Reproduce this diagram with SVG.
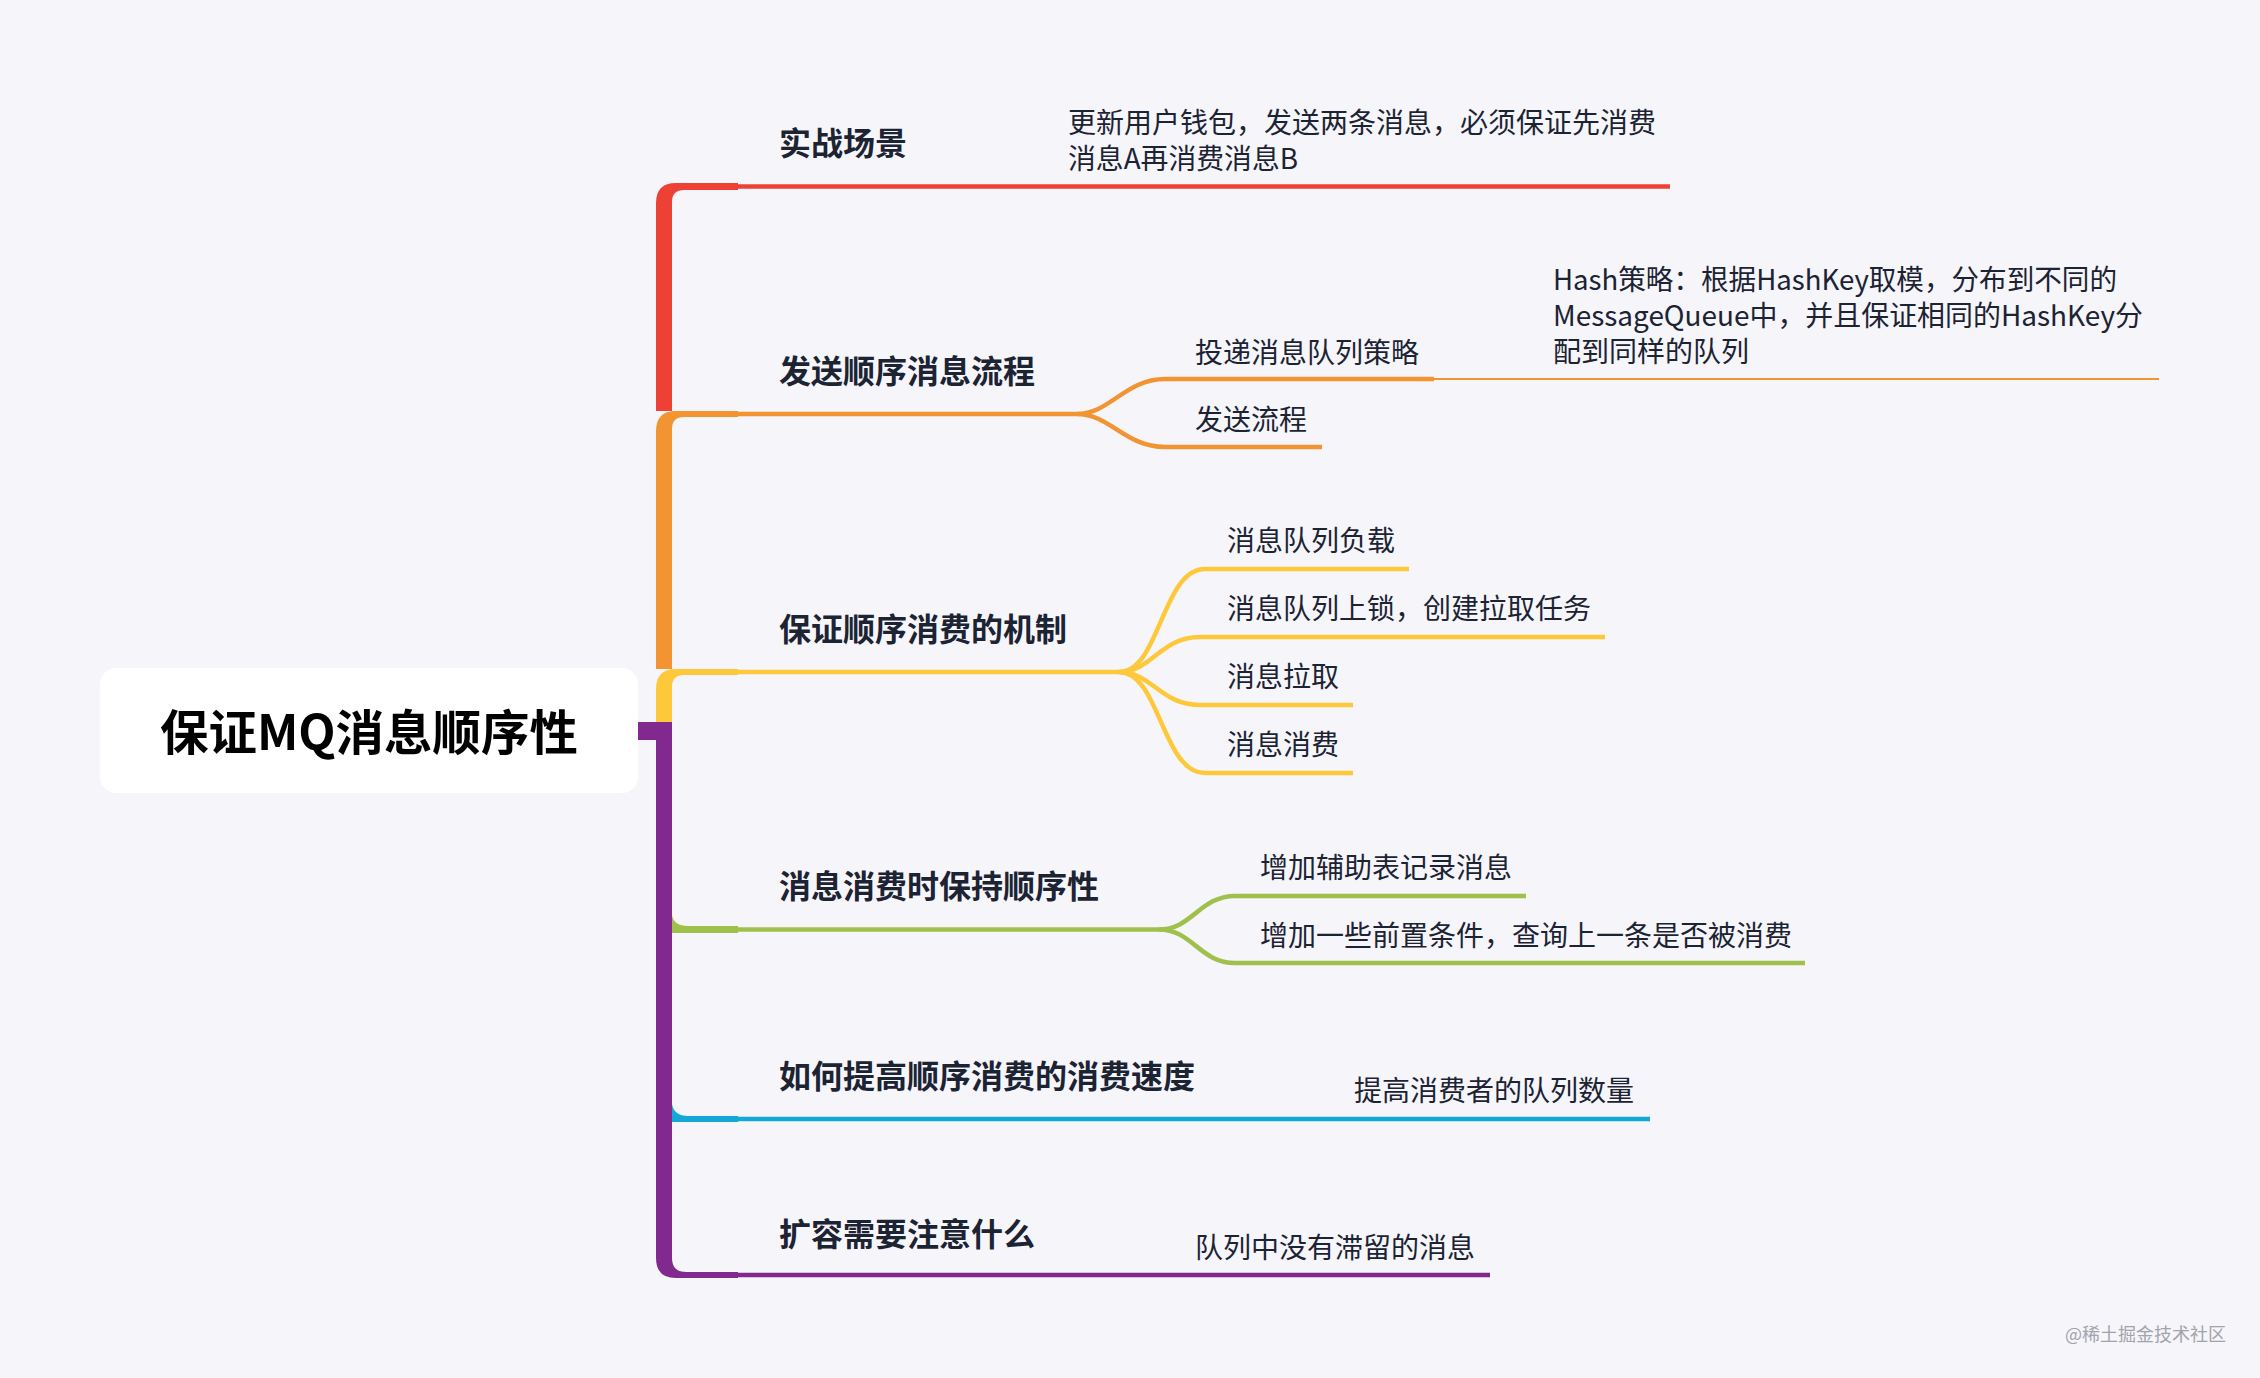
<svg xmlns="http://www.w3.org/2000/svg" width="2260" height="1378" viewBox="0 0 2260 1378">
<style>
.t1{font-family:"Noto Sans CJK SC","Noto Sans",sans-serif;font-size:32px;font-weight:700;fill:#1c2333}
.t2{font-family:"Noto Sans CJK SC","Noto Sans",sans-serif;font-size:28px;font-weight:400;fill:#1c2333}
.root{font-family:"Noto Sans CJK SC","Noto Sans",sans-serif;font-size:48px;font-weight:700;fill:#000}
.wm{font-family:"Noto Sans CJK SC","Noto Sans",sans-serif;font-size:18px;fill:#a3a3ab}
.ln{fill:none;stroke-width:4.5;stroke-linecap:butt}
.red{stroke:#EE4136}.org{stroke:#F39433}.yel{stroke:#FDC93B}.grn{stroke:#A0C04C}.blu{stroke:#14A8D6}.pur{stroke:#82298F}
</style>
<rect x="0" y="0" width="2260" height="1378" fill="#f5f5fa"/>
<g id="connectors">
  <!-- trunk segments -->
  <path fill="#EE4136" d="M656 411 L656 203 Q656 183 676 183 L738 183 L738 190 L684 190 Q672 190 672 202 L672 411 Z"/>
  <path fill="#F39433" d="M656 669 L656 431 Q656 411 676 411 L738 411 L738 417 L684 417 Q672 417 672 429 L672 669 Z"/>
  <path fill="#FDC93B" d="M656 722 L656 689 Q656 669 676 669 L738 669 L738 675 L684 675 Q672 675 672 687 L672 722 Z"/>
  <path fill="#82298F" d="M638 722 L672 722 L672 1258 Q672 1272 686 1272 L738 1272 L738 1278 L676 1278 Q656 1278 656 1258 L656 740 L638 740 Z"/>
  <path fill="#A0C04C" d="M672 915 Q674 926 688 926 L738 926 L738 933 L672 933 Z"/>
  <path fill="#14A8D6" d="M672 1104 Q674 1116 688 1116 L738 1116 L738 1122 L672 1122 Z"/>
  <!-- level 1 lines -->
  <path class="ln red" d="M736 186.5 L1670 186.5"/>
  <path class="ln org" d="M736 414 L1077 414"/>
  <path class="ln yel" d="M736 672 L1119 672"/>
  <path class="ln grn" d="M736 929.5 L1159 929.5"/>
  <path class="ln blu" d="M736 1119 L1650 1119"/>
  <path class="ln pur" d="M736 1275 L1490 1275"/>
  <!-- orange children -->
  <path class="ln org" d="M1077 414 C1110 414 1125 379 1165 379 L1434 379"/>
  <path class="ln org" d="M1077 414 C1110 414 1125 447 1165 447 L1322 447"/>
  <path fill="none" stroke="#F39433" stroke-width="2" d="M1434 379 L2159 379"/>
  <!-- yellow children -->
  <path class="ln yel" d="M1119 672 C1160 672 1162 569 1205 569 L1409 569"/>
  <path class="ln yel" d="M1119 672 C1152 672 1160 637 1200 637 L1605 637"/>
  <path class="ln yel" d="M1119 672 C1152 672 1160 705 1200 705 L1353 705"/>
  <path class="ln yel" d="M1119 672 C1160 672 1162 773 1205 773 L1353 773"/>
  <!-- green children -->
  <path class="ln grn" d="M1159 929.5 C1192 929.5 1200 896 1235 896 L1526 896"/>
  <path class="ln grn" d="M1159 929.5 C1192 929.5 1200 963 1235 963 L1805 963"/>
</g>
<g id="root">
  <rect x="100" y="668" width="538" height="125" rx="16" fill="#ffffff"/>
  <text class="root" x="160" y="750" textLength="418" lengthAdjust="spacingAndGlyphs">保证MQ消息顺序性</text>
</g>
<g id="n-scene"><text class="t1" x="779" y="155">实战场景</text></g>
<g id="n-scene-desc">
  <text class="t2" x="1068" y="133">更新用户钱包，发送两条消息，必须保证先消费</text>
  <text class="t2" x="1068" y="169" textLength="230" lengthAdjust="spacingAndGlyphs">消息A再消费消息B</text>
</g>
<g id="n-send"><text class="t1" x="779" y="383">发送顺序消息流程</text></g>
<g id="n-send-strategy"><text class="t2" x="1195" y="363">投递消息队列策略</text></g>
<g id="n-hash">
  <text class="t2" x="1553" y="290" textLength="564" lengthAdjust="spacingAndGlyphs">Hash策略：根据HashKey取模，分布到不同的</text>
  <text class="t2" x="1553" y="326" textLength="590" lengthAdjust="spacingAndGlyphs">MessageQueue中，并且保证相同的HashKey分</text>
  <text class="t2" x="1553" y="362">配到同样的队列</text>
</g>
<g id="n-send-flow"><text class="t2" x="1195" y="430">发送流程</text></g>
<g id="n-mech"><text class="t1" x="779" y="641">保证顺序消费的机制</text></g>
<g id="n-mech-1"><text class="t2" x="1227" y="551">消息队列负载</text></g>
<g id="n-mech-2"><text class="t2" x="1227" y="619">消息队列上锁，创建拉取任务</text></g>
<g id="n-mech-3"><text class="t2" x="1227" y="687">消息拉取</text></g>
<g id="n-mech-4"><text class="t2" x="1227" y="755">消息消费</text></g>
<g id="n-keep"><text class="t1" x="779" y="898">消息消费时保持顺序性</text></g>
<g id="n-keep-1"><text class="t2" x="1260" y="878">增加辅助表记录消息</text></g>
<g id="n-keep-2"><text class="t2" x="1260" y="946">增加一些前置条件，查询上一条是否被消费</text></g>
<g id="n-speed"><text class="t1" x="779" y="1088">如何提高顺序消费的消费速度</text></g>
<g id="n-speed-1"><text class="t2" x="1354" y="1101">提高消费者的队列数量</text></g>
<g id="n-scale"><text class="t1" x="779" y="1246">扩容需要注意什么</text></g>
<g id="n-scale-1"><text class="t2" x="1195" y="1258">队列中没有滞留的消息</text></g>
<text class="wm" x="2065" y="1341">@稀土掘金技术社区</text>
</svg>
